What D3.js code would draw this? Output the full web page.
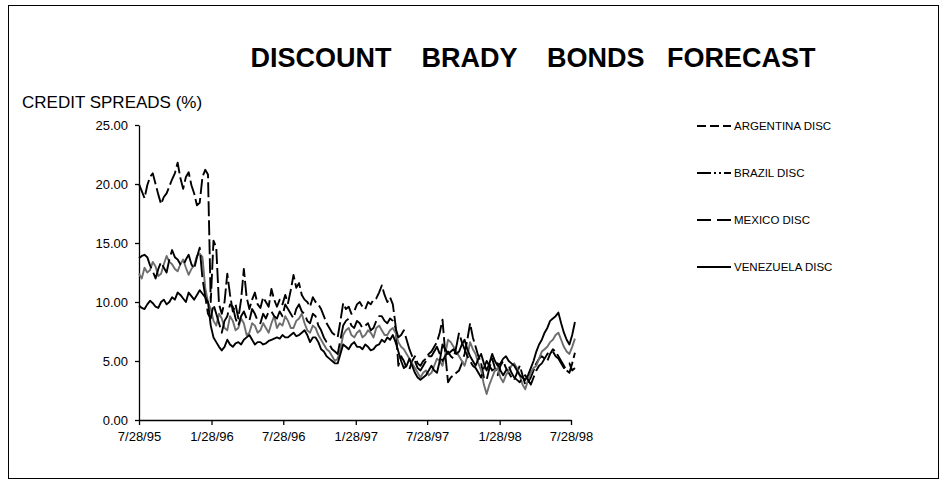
<!DOCTYPE html>
<html>
<head>
<meta charset="utf-8">
<script src="https://cdn.jsdelivr.net/npm/d3@7"></script>
<style>
  body { margin: 0; background: #fff; }
  svg { font-family: "Liberation Sans", Arial, sans-serif; }
</style>
</head>
<body>
<svg width="948" height="489"></svg>
<script>
// weekly observations, first one on 7/28/95
const startDate = new Date(1995, 6, 28);
const nWeeks = 159;
const dates = d3.range(nWeeks).map(k => d3.timeDay.offset(startDate, 7 * k));

const argentina = [
  20.0, 19.4, 18.8, 19.9, 20.6, 20.9, 20.0, 19.1, 18.3, 18.9,
  19.2, 19.8, 20.4, 20.9, 21.8, 20.5, 19.6, 20.6, 21.0, 19.9,
  19.2, 18.2, 18.4, 20.6, 21.2, 20.8, 10.0, 15.2, 14.6, 9.8,
  9.0, 10.0, 12.4, 10.6, 9.2, 9.8, 8.6, 10.2, 12.8, 10.4,
  9.4, 10.2, 10.8, 9.8, 9.5, 10.4, 10.0, 9.6, 11.1, 10.2,
  9.6, 10.2, 9.8, 10.6, 9.9, 11.0, 12.3, 11.2, 11.6, 10.6,
  10.2, 10.0, 9.6, 10.4, 10.0, 9.8, 9.4, 8.8, 8.2, 7.8,
  7.4, 7.2, 7.0, 8.4, 9.9, 9.4, 9.6, 9.0, 9.2, 9.8,
  10.0, 9.6, 9.4, 10.0, 9.8, 10.2, 10.3, 10.8, 11.4, 10.6,
  10.0, 10.4, 9.8, 8.0, 4.6, 5.4, 5.0, 4.4, 4.3, 5.0,
  5.4, 4.8, 4.6, 5.0, 5.2, 5.6, 5.8, 6.2, 6.6, 7.4,
  8.5, 5.6, 3.2, 3.6, 3.8, 4.0, 4.2, 4.8, 5.6, 6.8,
  8.2, 7.0, 6.2, 5.4, 4.8, 3.6, 3.4, 4.4, 5.2, 4.4,
  3.8, 4.6, 5.0, 4.4, 4.0, 3.6, 3.4, 4.0, 4.6, 3.8,
  3.0, 3.2, 3.6, 4.2, 4.8, 5.2, 5.4, 5.2, 5.0, 5.6,
  6.0, 5.8, 5.4, 5.0, 4.6, 4.2, 4.0, 4.8, 5.7
];
const brazil = [
  12.4, 12.0, 12.9, 12.5, 12.7, 13.4, 13.0, 12.2, 12.4, 13.2,
  13.9, 13.4, 13.2, 12.8, 12.6, 13.2, 13.6, 12.9, 12.3, 12.8,
  13.1, 13.9, 14.1, 13.8, 11.2, 10.0, 9.4, 8.4, 8.0, 9.0,
  8.6, 7.8, 7.6, 8.8, 8.4, 7.6, 7.8, 8.6, 8.2, 7.2,
  7.4, 8.2, 8.0, 7.4, 7.6, 8.2, 7.8, 7.4, 8.2, 8.8,
  7.8, 8.2, 8.0, 8.8, 8.4, 7.8, 7.8, 8.4, 8.6, 9.0,
  8.2, 7.6, 7.4, 8.0, 7.8, 7.2, 6.8, 6.4, 6.0, 5.8,
  5.4, 5.0, 5.2, 6.0, 7.2, 7.6, 7.8, 7.2, 7.0, 7.4,
  7.6, 7.0, 7.2, 7.6, 7.4, 7.0, 7.8, 8.0, 7.6, 7.2,
  7.2, 7.6, 7.8, 7.4, 6.6, 6.2, 6.0, 5.6, 5.2, 4.8,
  4.4, 4.0, 3.6, 4.0, 4.2, 3.8, 4.0, 4.6, 5.2, 5.0,
  4.6, 5.6, 6.8, 6.6, 6.2, 5.8, 5.4, 5.0, 4.6, 5.4,
  6.6, 6.0, 5.6, 4.8, 4.2, 3.0, 2.2, 3.0, 3.6, 4.2,
  4.4, 3.6, 3.2, 3.8, 4.2, 4.6, 4.8, 4.4, 3.8, 3.0,
  2.6, 3.4, 4.0, 4.4, 4.6, 5.2, 5.8, 6.0, 6.2, 6.6,
  6.8, 7.2, 7.4, 6.8, 6.2, 5.8, 5.6, 6.2, 6.9
];
const mexico = [
  13.7, 13.9, 14.0, 13.8, 13.1, 12.6, 12.0, 12.8, 13.4, 12.9,
  12.5, 13.6, 14.4, 13.8, 13.6, 13.2, 13.1, 13.6, 14.0, 13.2,
  12.8, 13.8, 14.6, 12.0, 10.5, 9.0, 8.6, 9.8, 9.0, 8.2,
  7.4, 8.4, 8.8, 9.8, 9.6, 8.6, 8.0, 8.8, 9.2, 8.6,
  8.4, 9.4, 9.0, 8.4, 8.2, 9.0, 8.6, 9.2, 9.2, 8.8,
  8.6, 9.2, 8.8, 9.8, 9.4, 9.0, 8.6, 9.4, 9.8, 9.2,
  9.0, 8.4, 8.2, 9.0, 8.8, 8.0, 7.6, 7.0, 6.6, 6.4,
  6.0, 5.8, 5.6, 6.8, 8.0, 8.4, 8.6, 8.0, 7.8, 8.4,
  8.2, 7.8, 8.0, 8.2, 7.6, 7.8, 8.4, 8.8, 8.8, 8.4,
  8.2, 8.6, 8.4, 7.8, 7.0, 7.2, 7.6, 6.8, 6.0, 5.4,
  5.0, 4.4, 4.2, 4.6, 5.0, 5.4, 5.4, 5.8, 6.2, 5.6,
  5.0, 5.4, 5.8, 5.4, 5.2, 6.2, 7.4, 6.6, 6.0, 5.4,
  5.0, 4.6, 4.4, 4.0, 3.6, 4.4, 5.0, 4.6, 4.2, 4.4,
  4.8, 4.2, 3.8, 4.2, 4.6, 4.0, 3.6, 3.4, 3.2, 3.6,
  3.8, 3.4, 3.0, 3.6, 4.2, 4.6, 4.8, 5.2, 5.6, 5.8,
  5.8, 5.4, 5.2, 4.8, 4.4, 4.6, 4.8, 4.2, 4.4
];
const venezuela = [
  9.7, 9.5, 9.4, 9.8, 10.1, 9.9, 9.6, 9.5, 10.0, 10.2,
  9.8, 10.0, 10.4, 10.2, 10.8, 10.6, 10.3, 10.0, 10.8, 10.5,
  10.2, 10.6, 11.0, 10.7, 10.4, 10.0, 8.0, 7.0, 6.6, 6.2,
  5.9, 6.2, 6.8, 6.4, 6.2, 6.5, 6.6, 6.4, 6.8, 7.0,
  7.2, 6.8, 6.4, 6.6, 6.6, 6.4, 6.5, 6.7, 6.8, 6.9,
  7.0, 6.9, 7.2, 7.0, 7.0, 7.2, 7.4, 7.1, 7.2, 7.4,
  7.6, 7.2, 6.6, 7.0, 7.0, 6.6, 6.0, 5.8, 5.4, 5.2,
  5.0, 4.8, 4.8, 5.6, 6.4, 6.2, 6.0, 6.4, 6.6, 6.2,
  6.2, 6.0, 6.4, 6.2, 5.9, 6.0, 6.3, 6.4, 6.8, 6.6,
  7.0, 6.8, 7.2, 6.6, 5.8, 5.0, 4.4, 4.6, 5.2, 4.6,
  4.0, 3.6, 3.4, 3.6, 3.8, 4.2, 4.6, 4.2, 4.0, 5.0,
  6.4, 6.0, 5.6, 5.8, 6.0, 5.6, 5.8, 6.4, 6.8, 6.0,
  5.4, 5.0, 4.6, 5.2, 5.6, 4.8, 4.2, 4.8, 5.6, 5.0,
  4.6, 4.8, 5.2, 5.4, 5.0, 4.8, 4.6, 4.2, 3.8, 3.6,
  3.4, 3.8, 4.4, 5.0, 5.8, 6.4, 6.8, 7.4, 7.8, 8.4,
  8.6, 8.8, 9.1, 8.2, 7.4, 6.8, 6.4, 7.2, 8.3
];

const seriesNames = ["ARGENTINA DISC", "BRAZIL DISC", "MEXICO DISC", "VENEZUELA DISC"];
const seriesValues = [argentina, brazil, mexico, venezuela];
const tickDates = ["7/28/95", "1/28/96", "7/28/96", "1/28/97", "7/28/97", "1/28/98", "7/28/98"];
const yTicks = [0, 5, 10, 15, 20, 25];

// dash styles: legend samples and plotted lines (longer on the plot)
const legendDashes = ["9,4", "14,3,2,3,2,3", "14,6", null];
const plotDashes = ["15,4", null, "22,5", null];
const lineColors = ["#000", "#6e6e6e", "#000", "#000"];

const svg = d3.select("svg");
const width = +svg.attr("width");
const height = +svg.attr("height");
const margin = {top: 125, right: 377, bottom: 69, left: 139};

// outer frame
svg.append("rect")
  .attr("x", 8.5).attr("y", 5.5)
  .attr("width", 930).attr("height", 473)
  .attr("fill", "none").attr("stroke", "#000").attr("stroke-width", 1);

const parseTick = d3.timeParse("%m/%d/%y");
const x = d3.scaleTime()
  .domain([parseTick(tickDates[0]), parseTick(tickDates[tickDates.length - 1])])
  .range([margin.left, width - margin.right]);

const y = d3.scaleLinear()
  .domain([0, 25])
  .range([height - margin.bottom, margin.top]);

// axes
const xAxis = svg.append("g")
  .attr("transform", `translate(0,${height - margin.bottom})`)
  .call(d3.axisBottom(x)
    .tickValues(tickDates.map(parseTick))
    .tickFormat(d3.timeFormat("%-m/%-d/%y"))
    .tickSize(5)
    .tickSizeOuter(0)
    .tickPadding(7));

const yAxis = svg.append("g")
  .attr("transform", `translate(${margin.left},0)`)
  .call(d3.axisLeft(y)
    .tickValues(yTicks)
    .tickFormat(d3.format(".2f"))
    .tickSize(4)
    .tickSizeOuter(0)
    .tickPadding(7));

[xAxis, yAxis].forEach(g => {
  g.selectAll("path, line").attr("stroke", "#000").attr("stroke-width", 1.3);
  g.selectAll("text").attr("fill", "#000").style("font-size", "13px")
    .style("font-family", "'Liberation Sans', Arial, sans-serif");
});

// lines
const line = d3.line()
  .x((d, i) => x(dates[i]))
  .y(d => y(d));

svg.append("g")
  .selectAll("path")
  .data(seriesValues)
  .join("path")
    .attr("d", d => line(d))
    .attr("fill", "none")
    .attr("stroke", (d, i) => lineColors[i])
    .attr("stroke-width", 1.9)
    .attr("stroke-linejoin", "round")
    .attr("stroke-dasharray", (d, i) => plotDashes[i]);

// legend
const legend = svg.append("g")
  .selectAll("g")
  .data(seriesNames)
  .join("g")
    .attr("transform", (d, i) => `translate(697,${126 + i * 47})`);

legend.append("line")
  .attr("x1", 0).attr("x2", 34)
  .attr("stroke", "#000")
  .attr("stroke-width", 2)
  .attr("stroke-dasharray", (d, i) => legendDashes[i]);

legend.append("text")
  .attr("x", 37)
  .attr("dy", "0.35em")
  .style("font-size", "11.5px")
  .text(d => d);

// title
svg.append("text")
  .attr("x", 533)
  .attr("y", 67)
  .attr("text-anchor", "middle")
  .style("font-size", "27px")
  .style("font-weight", "bold")
  .style("white-space", "pre")
  .text("DISCOUNT    BRADY    BONDS   FORECAST");

// y axis title
svg.append("text")
  .attr("x", 22)
  .attr("y", 108)
  .style("font-size", "17px")
  .text("CREDIT SPREADS (%)");
</script>
</body>
</html>
